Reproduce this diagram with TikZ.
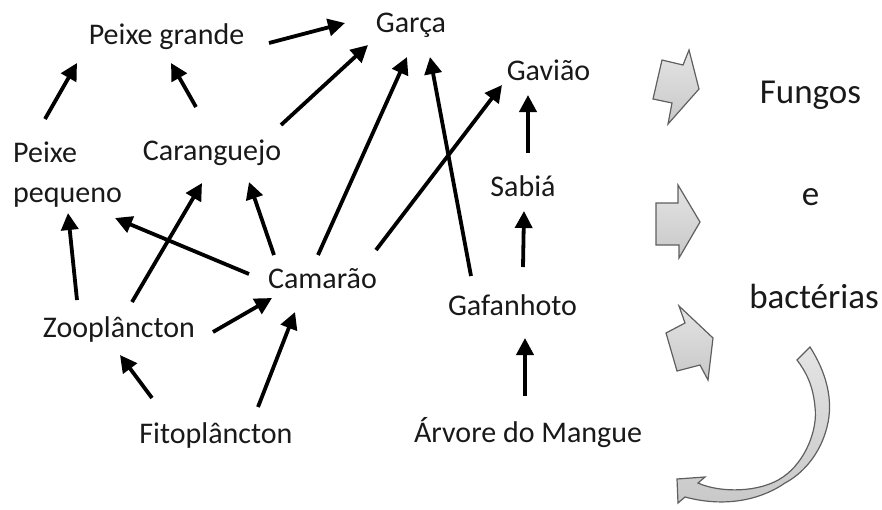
\documentclass[tikz,border=0pt]{standalone}
\usepackage{fontspec}
\setmainfont{Carlito}
\usetikzlibrary{arrows.meta,calc}
\definecolor{txt}{RGB}{25,25,25}
\definecolor{blktop}{RGB}{228,228,228}
\definecolor{blkbot}{RGB}{200,200,200}
\definecolor{blkline}{RGB}{95,95,95}
\tikzset{
  lbl/.style={anchor=base,inner sep=0pt,text=txt,font=\fontsize{30}{40}\selectfont},
  big/.style={anchor=base,inner sep=0pt,text=txt,font=\fontsize{35}{42}\selectfont},
  feed/.style={line width=3.8pt,-{Triangle[length=17pt,width=17pt]},draw=black},
  blockarrow/.style={draw=blkline,line width=1.2pt,line join=miter,top color=blktop,bottom color=blkbot}
}
\begin{document}
\begin{tikzpicture}[x=1pt,y=-1pt]
\useasboundingbox (0,0) rectangle (882,509);
% nodes
\node[lbl] (pg) at (166.5,44) {Peixe grande};
\node[lbl] (garca) at (411,32) {Garça};
\node[lbl] (gaviao) at (548.5,80) {Gavião};
\node[lbl,anchor=base west] (pp) at (13,162) {\vtop{\hbox{Peixe}\hbox{pequeno}}};
\node[lbl] (car) at (212,160) {Caranguejo};
\node[lbl] (sab) at (523,196) {Sabiá};
\node[lbl] (cam) at (322.5,288) {Camarão};
\node[lbl] (gaf) at (512.5,315) {Gafanhoto};
\node[lbl] (zoo) at (119,337) {Zooplâncton};
\node[lbl] (fito) at (216,443) {Fitoplâncton};
\node[lbl] (arv) at (528,442) {Árvore do Mangue};
\node[big] (fungos) at (810.5,103) {Fungos};
\node[big] (e) at (810.5,205) {e};
\node[big] (bact) at (814,308) {bactérias};
% feeding arrows
\draw[feed] ($(pp.base west)+(32,-43)$) -- ($(pg.base)+(-89.5,19)$);
\draw[feed] ($(car.base)+(-16,-53)$) -- ($(pg.base)+(4.5,19)$);
\draw[feed] ($(pg.base)+(102.5,-1)$) -- ($(garca.base)+(-66,-9)$);
\draw[feed] ($(car.base)+(69,-35)$) -- ($(garca.base)+(-43,13)$);
\draw[feed] ($(cam.base)+(-4.5,-33)$) -- ($(garca.base)+(-4,25)$);
\draw[feed] ($(gaf.base)+(-41.5,-39)$) -- ($(garca.base)+(19,25)$);
\draw[feed] ($(cam.base)+(53.5,-38)$) -- ($(gaviao.base)+(-46.5,5)$);
\draw[feed] ($(sab.base)+(5,-43)$) -- ($(gaviao.base)+(-20.5,15)$);
\draw[feed] ($(gaf.base)+(10.5,-48)$) -- ($(sab.base)+(1,15)$);
\draw[feed] ($(arv.base)+(-3,-46)$) -- ($(gaf.base)+(12.5,23)$);
\draw[feed] ($(cam.base)+(-48.5,-33)$) -- ($(car.base)+(37,22)$);
\draw[feed] ($(cam.base)+(-73.5,-14)$) -- ($(pp.base west)+(102,56)$);
\draw[feed] ($(zoo.base)+(13,-35)$) -- ($(car.base)+(-10,23)$);
\draw[feed] ($(zoo.base)+(-42,-37)$) -- ($(pp.base west)+(55,51)$);
\draw[feed] ($(zoo.base)+(94,-5)$) -- ($(cam.base)+(-50.5,10)$);
\draw[feed] ($(fito.base)+(-64,-45)$) -- ($(zoo.base)+(1,18)$);
\draw[feed] ($(fito.base)+(42,-36)$) -- ($(cam.base)+(-27.5,24)$);
% block arrows
\draw[blockarrow] (662,60) -- (683,65) -- (689,50) -- (699,89) -- (668,124) -- (672,103) -- (653,99) -- cycle;
\draw[blockarrow] (656,203) -- (678,203) -- (678,185) -- (700,222) -- (679,258) -- (679,245) -- (656,245) -- cycle;
\draw[blockarrow] (679,306) -- (685,323) -- (666,333) -- (677,371) -- (700,365) -- (708,380) -- (713,338) -- cycle;
% curved arrow
\draw[blockarrow] (810,347) .. controls (826,372) and (834,400) .. (827,427)
  .. controls (820,455) and (802,474) .. (785,483)
  .. controls (765,497) and (730,509) .. (685,497)
  -- (678,503) -- (677,479) -- (705,477) -- (698,483)
  .. controls (720,493) and (760,493) .. (783,477)
  .. controls (805,462) and (818,430) .. (815,407)
  .. controls (813,385) and (806,372) .. (797,360) -- cycle;
\end{tikzpicture}
\end{document}
